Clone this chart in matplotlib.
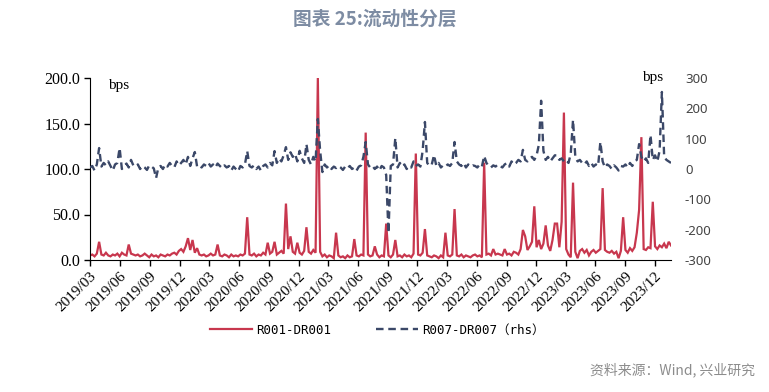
import matplotlib
matplotlib.use('Agg')
import matplotlib.pyplot as plt
import pandas as pd

# ---------------- data (weekly samples) ----------------
start_date = '2019-03-01'
end_date = '2024-01-19'

r001_dr001 = [
    5, 6, 4, 7, 20, 6, 5, 8, 5, 4,
    6, 5, 7, 4, 8, 6, 5, 17, 7, 6,
    5, 6, 4, 5, 7, 5, 3, 6, 4, 5,
    3, 6, 5, 4, 6, 5, 7, 8, 6, 10,
    12, 9, 15, 24, 11, 22, 8, 13, 6, 5,
    6, 4, 5, 7, 5, 6, 17, 5, 4, 6,
    5, 3, 6, 4, 5, 4, 6, 5, 7, 47,
    6, 5, 7, 4, 6, 5, 8, 6, 19, 7,
    9, 20, 6, 8, 10, 7, 62, 12, 26, 9,
    7, 19, 8, 6, 10, 36, 9, 7, 11, 8,
    200, 9, 4, 6, 3, 5, 4, 2, 30, 5,
    3, 4, 2, 5, 3, 4, 23, 5, 4, 6,
    5, 140, 6, 4, 5, 15, 6, 3, 5, 4,
    40, 5, 3, 6, 22, 4, 5, 3, 6, 4,
    5, 3, 7, 117, 6, 5, 8, 34, 5, 4,
    3, 5, 4, 2, 5, 3, 30, 5, 4, 6,
    56, 5, 4, 6, 3, 5, 4, 3, 5, 6,
    4, 5, 3, 107, 6, 7, 5, 12, 6, 7,
    6, 5, 12, 6, 7, 5, 9, 8, 6, 12,
    33, 26, 11, 15, 20, 59, 14, 22, 12, 18,
    38, 16, 10, 22, 40, 40, 14, 42, 162, 12,
    6, 3, 85, 9, 2, 10, 12, 8, 11, 5,
    9, 11, 8, 10, 12, 79, 11, 9, 8, 10,
    7, 9, 2, 10, 47, 11, 8, 13, 10, 14,
    30, 55, 135, 12, 11, 14, 13, 64, 15, 12,
    16, 14, 18, 13, 20, 16,
]

r007_dr007 = [
    5, 10, -5, 15, 69, 8, 20, 12, 25, 10,
    -5, 15, 20, 69, 0, 10, 18, 5, 30, 12,
    8, 15, 0, 10, 5, -3, 12, 8, 2, -30,
    5, 10, 0, 15, 8, 20, 10, 5, 25, 12,
    20, 30, 15, 40, 10, 35, 56, 8, 12, 5,
    15, 10, 20, 8, 15, 5, 18, 10, 3, 12,
    5, 10, -5, 8, 0, -8, 10, 5, 15, 59,
    10, 5, 12, 0, 8, -5, 10, 15, 5, 20,
    12, 59, 20, 35, 25, 45, 72, 30, 55, 40,
    50, 25, 60, 35, 20, 82, 30, 15, 40, 25,
    165, 60, -10, 15, 5, 12, 0, 8, 3, 10,
    5, -3, 8, 2, 10, 0, 5, -5, 8, 12,
    40, 89, 15, 5, 10, 0, 8, -5, 10, 5,
    -20, -211, 10, 15, 102, 5, 20, 8, 15, 0,
    10, 5, 25, 10, 15, 8, 60, 155, 20, 10,
    15, 46, 10, 20, 5, 12, 8, 15, 10, 20,
    89, 25, 15, 10, 20, 5, 15, 8, 12, 10,
    5, 15, 8, 43, 20, 10, 5, 12, 8, 15,
    10, 5, 15, 20, 8, 25, 15, 20, 30, 25,
    63, 30, 25, 35, 40, 30, 45, 80, 225, 60,
    30, 40, 25, 35, 45, 45, 30, 35, 25, 30,
    20, 50, 162, 40, 25, 30, 20, 15, 25, 10,
    20, 8, 15, 10, 89, 25, 5, 15, 10, 0,
    12, 5, -5, 10, 8, 15, 5, 20, 10, 25,
    30, 82, 40, 25, 35, 20, 112, 30, 45, 25,
    60, 254, 40, 30, 25, 20,
]

x_tick_labels = ['2019/03', '2019/06', '2019/09', '2019/12', '2020/03', '2020/06',
                 '2020/09', '2020/12', '2021/03', '2021/06', '2021/09', '2021/12',
                 '2022/03', '2022/06', '2022/09', '2022/12', '2023/03', '2023/06',
                 '2023/09', '2023/12']
left_ticks = [0, 50, 100, 150, 200]
right_ticks = [-300, -200, -100, 0, 100, 200, 300]

title = '图表 25:流动性分层'
source = '资料来源：Wind, 兴业研究'
label_red = 'R001-DR001'
label_blue = 'R007-DR007（rhs）'

# ---------------- plotting ----------------
dates = pd.date_range(start_date, end_date, freq='7D')
n = min(len(dates), len(r001_dr001), len(r007_dr007))
dates = dates[:n]

RED = '#C8374E'
BLUE = '#3B4868'
SERIF = ['Liberation Serif', 'DejaVu Serif']

fig = plt.figure(figsize=(7.69, 3.92), dpi=100)
ax = fig.add_axes([90 / 769, 1 - 260 / 392, (671 - 90) / 769, (260 - 78) / 392])
ax2 = ax.twinx()

l1, = ax.plot(dates, r001_dr001[:n], color=RED, lw=1.6, solid_joinstyle='miter')
l2, = ax2.plot(dates, r007_dr007[:n], color=BLUE, lw=1.7, dashes=(3.2, 2.0))

ax.set_xlim(pd.Timestamp(start_date), pd.Timestamp(end_date))
ax.set_ylim(0, 200)
ax2.set_ylim(-300, 300)

tick_pos = [pd.Timestamp(t.replace('/', '-') + '-01') for t in x_tick_labels]
ax.set_xticks(tick_pos)
ax.set_xticklabels(x_tick_labels, rotation=45, ha='right', rotation_mode='anchor',
                   family=SERIF, fontsize=11)
ax.set_yticks(left_ticks)
ax.set_yticklabels([f'{v:.1f}' for v in left_ticks], family=SERIF, fontsize=11.5)
ax.tick_params(axis='x', direction='out', length=4, width=1, pad=3)
ax.tick_params(axis='y', direction='out', length=4, width=1, pad=3)

ax2.set_yticks(right_ticks)
ax2.set_yticklabels([str(v) for v in right_ticks], family=['Noto Sans', 'DejaVu Sans'],
                    fontsize=9.5, color='#444444')
ax2.tick_params(axis='y', length=0, pad=10)

for a in (ax, ax2):
    a.spines['top'].set_visible(False)
    a.spines['right'].set_visible(False)
ax2.spines['left'].set_visible(False)
ax2.spines['bottom'].set_visible(False)
ax.spines['left'].set_color('black')
ax.spines['bottom'].set_color('black')

fig.text(108 / 769, 1 - 86 / 392, 'bps', family=SERIF, fontsize=11, va='center', ha='left')
fig.text(653 / 769, 1 - 77 / 392, 'bps', family=SERIF, fontsize=11, va='center', ha='center')

fig.text(375 / 769, 1 - 19 / 392, title, family=['Noto Sans CJK SC', 'DejaVu Sans'],
         fontsize=13.5, fontweight='bold', color='#7D8CA3', ha='center', va='center')

fig.text(755 / 769, 1 - 370 / 392, source, family=['Noto Sans CJK SC', 'DejaVu Sans'],
         fontsize=10, color='#8C8C8C', ha='right', va='center')

leg = fig.legend([l1, l2], [label_red, label_blue], loc='center',
                 bbox_to_anchor=(377 / 769, 1 - 330 / 392), ncol=2, frameon=False,
                 handlelength=3.4, handletextpad=0.3, columnspacing=3.6,
                 prop={'family': ['DejaVu Sans Mono', 'Noto Sans CJK SC'], 'size': 9})

fig.savefig('out.png', dpi=100)
